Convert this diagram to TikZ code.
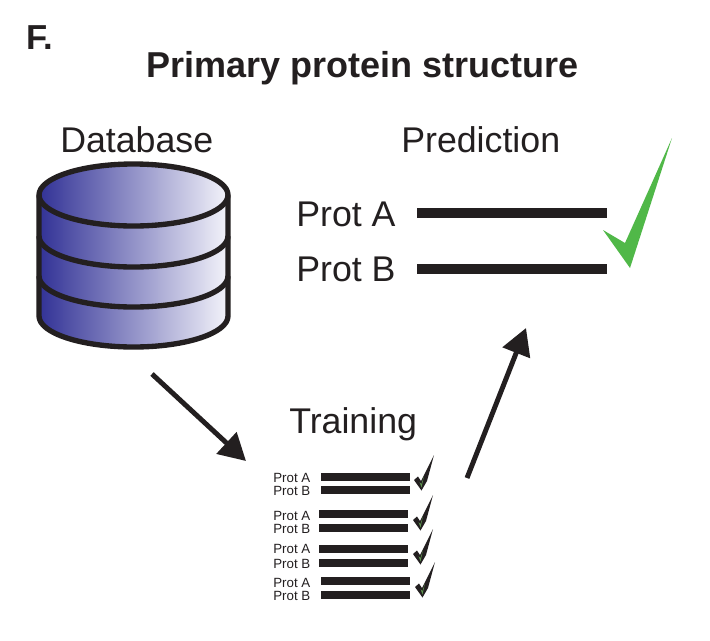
\documentclass[tikz,border=0pt]{standalone}
\usepackage{fontspec}
\setmainfont{Liberation Sans}
\usetikzlibrary{arrows.meta}
\definecolor{ink}{RGB}{35,31,32}
\definecolor{bigcheck}{RGB}{80,184,72}
\definecolor{smallcheck}{RGB}{95,150,80}
\definecolor{dbleft}{RGB}{50,50,150}
\definecolor{dbright}{RGB}{243,243,250}
\tikzset{
  x=0.75pt,y=-0.75pt,
  lbl/.style={inner sep=0pt,anchor=base west,text=ink},
  biglbl/.style={lbl,font=\fontsize{26.8}{30}\selectfont},
  smalllbl/.style={lbl,font=\fontsize{10}{12}\selectfont},
  titlelbl/.style={lbl,font=\fontsize{27}{32}\selectfont\bfseries},
  bigbar/.style={draw=ink,line width=6.8pt},
  smallbar/.style={draw=ink,line width=6pt},
  dbline/.style={draw=ink,line width=4pt},
  flow/.style={draw=ink,line width=3.7pt,-{Triangle[length=20pt,width=21.5pt]}},
}
\newcommand{\smallcheckmark}[2]{%
  \begin{scope}[shift={(#1,#2)}]
    \fill[ink] (434,455) -- (421,481) -- (418,476.5) -- (414,480) -- (421.5,490.5) -- (427,481) -- cycle;
    \fill[smallcheck] (424,476) -- (421.5,484) -- (419.5,482) -- (421.5,487.5) -- cycle;
  \end{scope}}
\begin{document}
\begin{tikzpicture}
\useasboundingbox (0,0) rectangle (710,640);
\fill[white] (0,0) rectangle (710,640);

\node[titlelbl,font=\fontsize{26}{30}\selectfont\bfseries] (panel) at (26,49) {F.};
\node[titlelbl] (title) at (146,77) {Primary protein structure};
\node[biglbl] (database) at (60,152) {Database};
\node[biglbl] (prediction) at (401,152) {Prediction};
\node[biglbl] (mainA) at (296,226) {Prot A};
\node[biglbl] (mainB) at (296,281) {Prot B};
\node[biglbl] (training) at (289,433) {Training};

% database cylinder
\shade[left color=dbleft,right color=dbright]
  (39,195) arc[start angle=180,end angle=0,x radius=94.5,y radius=-31]
  -- (228,316) arc[start angle=0,end angle=-180,x radius=94.5,y radius=-31] -- cycle;
\path[dbline]
  (39,195) arc[start angle=180,end angle=0,x radius=94.5,y radius=-31]
  -- (228,316) arc[start angle=0,end angle=-180,x radius=94.5,y radius=-31] -- cycle;
\path[dbline] (39,195) arc[start angle=180,end angle=360,x radius=94.5,y radius=-31];
\path[dbline] (39,236) arc[start angle=180,end angle=360,x radius=94.5,y radius=-31];
\path[dbline] (39,276) arc[start angle=180,end angle=360,x radius=94.5,y radius=-31];

% prediction bars
\coordinate (a1) at (417,213); \coordinate (a2) at (607,213);
\coordinate (b1) at (417,269); \coordinate (b2) at (607,269);
\path[bigbar] (a1) -- (a2);
\path[bigbar] (b1) -- (b2);

% big tick
\fill[bigcheck] (672,138) -- (625,243) -- (603,230) -- (630,268) -- cycle;

% training rows
\foreach \n/\ya/\yb/\ta/\tb/\xa/\xb in {
  1/477/490/482/495/321/410,
  2/514/528/520/533/319/408,
  3/549/563/553/568/319/408,
  4/581/595/587/600/321/410}{
  \node[smalllbl] (ta\n) at (273,\ta) {Prot A};
  \node[smalllbl] (tb\n) at (273,\tb) {Prot B};
  \coordinate (sa\n) at (\xa,\ya); \coordinate (ea\n) at (\xb,\ya);
  \coordinate (sb\n) at (\xa,\yb); \coordinate (eb\n) at (\xb,\yb);
  \path[smallbar] (sa\n) -- (ea\n);
  \path[smallbar] (sb\n) -- (eb\n);
}
\smallcheckmark{0}{0}
\smallcheckmark{-1}{40}
\smallcheckmark{-1}{74}
\smallcheckmark{1}{107}

% arrows
\coordinate (p1) at (152,374); \coordinate (p2) at (246,461);
\coordinate (q1) at (467,478); \coordinate (q2) at (526,328);
\path[flow] (p1) -- (p2);
\path[flow] (q1) -- (q2);
\end{tikzpicture}
\end{document}
